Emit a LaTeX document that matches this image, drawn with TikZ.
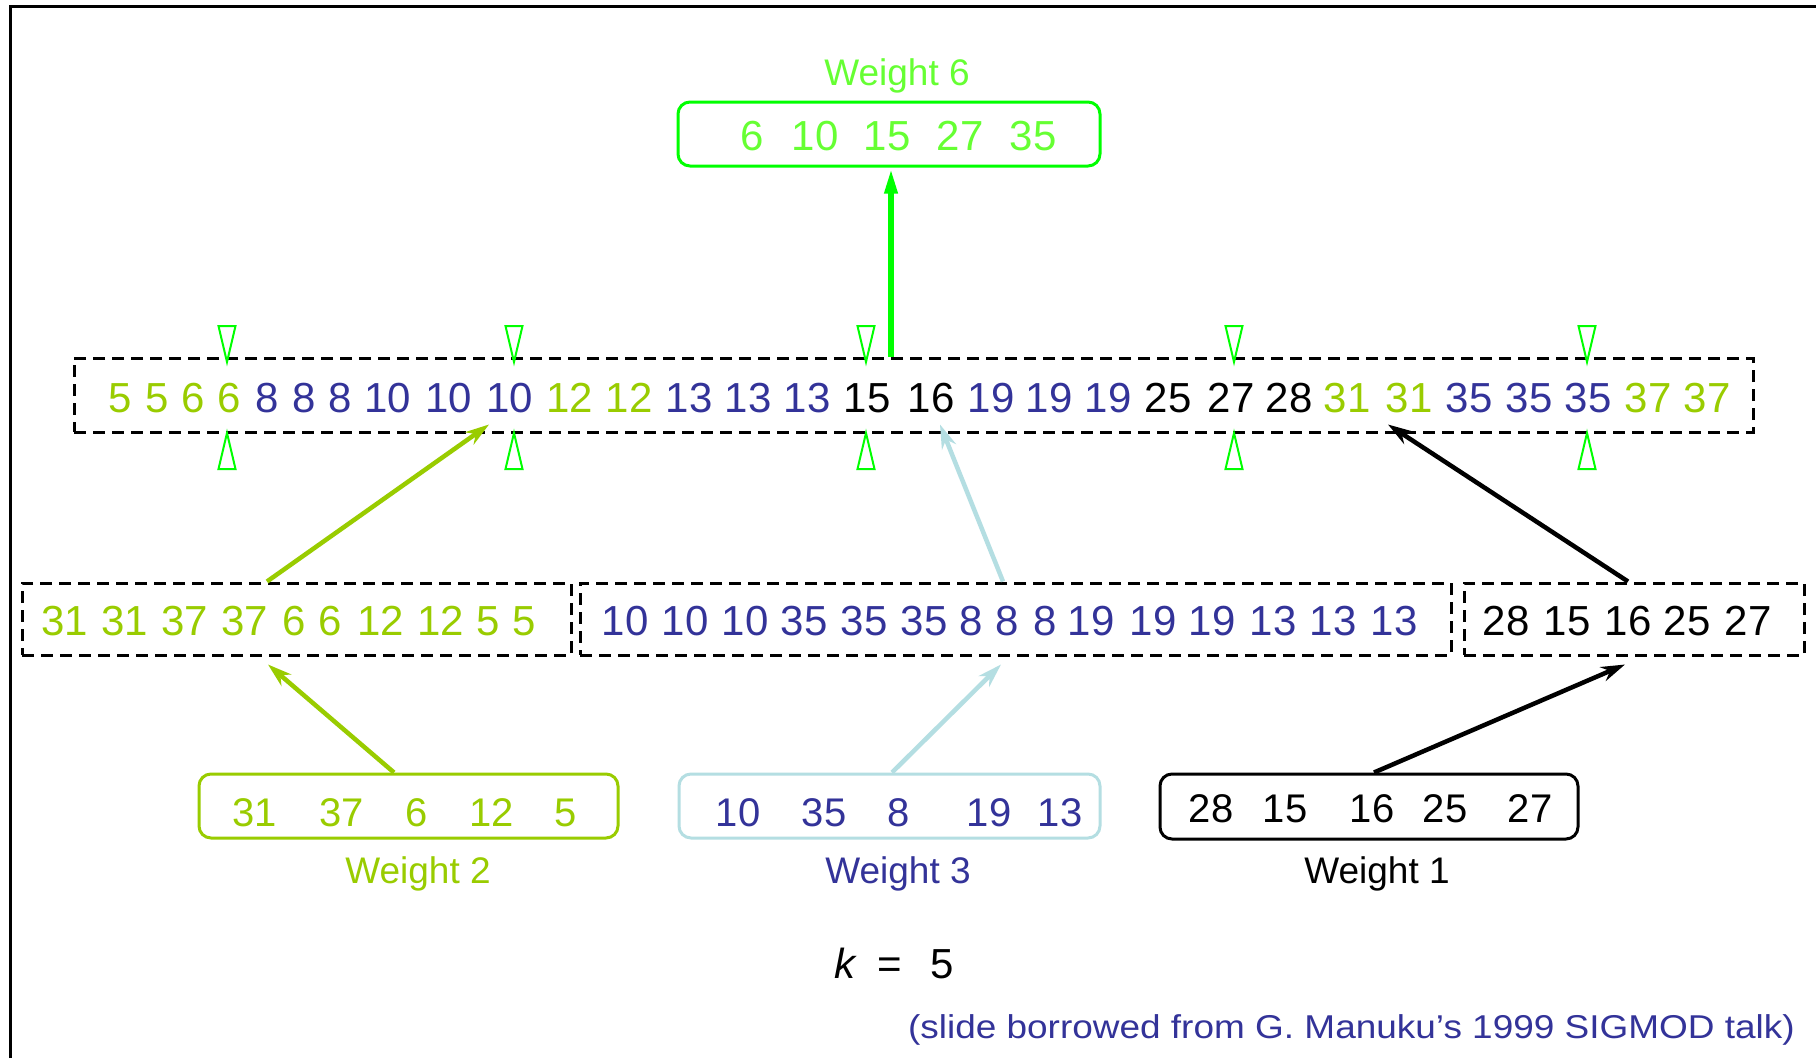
\documentclass[tikz,border=0pt]{standalone}
\usepackage{fontspec}
\setmainfont{Liberation Sans}
\usetikzlibrary{arrows.meta,calc}
\definecolor{ygreen}{HTML}{99CC00}
\definecolor{dblue}{HTML}{333399}
\definecolor{lblue}{HTML}{B4DEE2}
\definecolor{bgreen}{HTML}{00FF00}
\definecolor{tgreen}{HTML}{66FF33}
\begin{document}
\begin{tikzpicture}[x=1pt,y=-1pt,
  num/.style={anchor=base, inner sep=0pt, font=\fontsize{42}{50}\selectfont},
  snum/.style={anchor=base, inner sep=0pt, font=\fontsize{40}{48}\selectfont},
  lab/.style={anchor=base, inner sep=0pt, font=\fontsize{37}{44}\selectfont},
  dbox/.style={draw=black, line width=3pt, dash pattern=on 12pt off 7pt, inner sep=0pt},
  wbox/.style={line width=3pt, rounded corners=12pt, inner sep=0pt},
  tri/.style={draw=bgreen, line width=2pt, line join=miter},
  arr/.style={line width=4.5pt, -{Stealth[length=24pt,width=15pt]}}
]
\useasboundingbox (0,0) rectangle (1816,1058);
\fill[white] (0,0) rectangle (1816,1058);
% frame
\draw[line width=3pt] (10.5,1058) -- (10.5,6) -- (1816,6);

% boxes
\node[dbox, minimum width=1679pt, minimum height=74pt] (mid) at (913.5,395) {};
\node[dbox, minimum width=549pt, minimum height=72pt] (ba) at (296.5,619) {};
\node[dbox, minimum width=871pt, minimum height=72pt] (bb) at (1015.5,619) {};
\node[dbox, minimum width=340pt, minimum height=72pt] (bc) at (1634,619) {};
\node[wbox, draw=bgreen, minimum width=422pt, minimum height=64pt] (w6) at (889,134) {};
\node[wbox, draw=ygreen, minimum width=419pt, minimum height=64pt] (w2) at (408.5,806) {};
\node[wbox, draw=lblue, minimum width=421pt, minimum height=64pt] (w3) at (889.5,806) {};
\node[wbox, draw=black, minimum width=418pt, minimum height=65pt] (w1) at (1369,806.5) {};

% labels
\node[lab, text=tgreen] (l6) at (897,85) {Weight 6};
\node[lab, text=ygreen] (l2) at (418,883) {Weight 2};
\node[lab, text=dblue] (l3) at (898,883) {Weight 3};
\node[lab, text=black] (l1) at (1377,883) {Weight 1};

% weight 6 numbers
\foreach \x/\t [count=\i] in {752/6, 815/10, 887/15, 960/27, 1033/35}
  \node[num, text=tgreen] (s6n\i) at (\x,150) {\t};

% middle sorted row
\foreach \x/\t/\c [count=\i] in {120/5/ygreen, 157/5/ygreen, 193/6/ygreen, 229/6/ygreen,
  267/8/dblue, 304/8/dblue, 340/8/dblue, 388/10/dblue, 449/10/dblue, 510/10/dblue,
  570/12/ygreen, 629/12/ygreen, 689/13/dblue, 748/13/dblue, 807/13/dblue,
  867/15/black, 931/16/black, 991/19/dblue, 1049/19/dblue, 1108/19/dblue,
  1168/25/black, 1231/27/black, 1289/28/black, 1347/31/ygreen, 1409/31/ygreen,
  1469/35/dblue, 1529/35/dblue, 1588/35/dblue, 1648/37/ygreen, 1707/37/ygreen}
  \node[num, text=\c] (m\i) at (\x,412) {\t};

% box A
\foreach \x/\t [count=\i] in {65/31, 125/31, 185/37, 245/37, 294/6, 330/6, 381/12, 441/12, 488/5, 524/5}
  \node[num, text=ygreen] (a\i) at (\x,635) {\t};
% box B
\foreach \x/\t [count=\i] in {625/10, 685/10, 745/10, 804/35, 864/35, 924/35, 971/8, 1007/8, 1045/8,
  1091/19, 1153/19, 1212/19, 1273/13, 1333/13, 1394/13}
  \node[num, text=dblue] (b\i) at (\x,635) {\t};
% box C
\foreach \x/\t [count=\i] in {1506/28, 1567/15, 1628/16, 1687/25, 1748/27}
  \node[num, text=black] (c\i) at (\x,635) {\t};

% weight boxes numbers
\foreach \x/\t [count=\i] in {255/31, 342/37, 417/6, 492/12, 566/5}
  \node[snum, text=ygreen] (w2n\i) at (\x,826) {\t};
\foreach \x/\t [count=\i] in {738/10, 824/35, 899/8, 989/19, 1060/13}
  \node[snum, text=dblue] (w3n\i) at (\x,826) {\t};
\foreach \x/\t [count=\i] in {1211/28, 1285/15, 1372/16, 1445/25, 1530/27}
  \node[snum, text=black] (w1n\i) at (\x,822) {\t};

% triangles
\foreach \x in {227,514,866,1234,1587}{
  \draw[tri] (\x-8.5,326) -- (\x+8.5,326) -- (\x,362) -- cycle;
  \draw[tri] (\x,433) -- (\x+8.5,469) -- (\x-8.5,469) -- cycle;
}

% arrows
\draw[bgreen, line width=6pt, -{Triangle[length=26pt,width=12pt]}] (mid.north -| 891,0) -- (w6.south -| 891,0);
\draw[arr, ygreen] (w2.north -| 394,0) -- ($(ba.south -| 268,0)+(0,8)$);
\draw[arr, ygreen] (ba.north -| 267,0) -- ($(mid.south -| 489,0)+(0,-9)$);
\draw[arr, lblue] (w3.north -| 892,0) -- ($(bb.south -| 1001,0)+(0,8)$);
\draw[arr, lblue] (bb.north -| 1003,0) -- ($(mid.south -| 940,0)+(0,-9)$);
\draw[arr, black] (w1.north -| 1374,0) -- ($(bc.south -| 1625,0)+(0,8)$);
\draw[arr, black] (bc.north -| 1628,0) -- ($(mid.south -| 1388,0)+(0,-9)$);

% k = 5
\node[anchor=base west, inner sep=0pt, font=\fontsize{42}{50}\selectfont] (k) at (834,978) {\itshape k\upshape\hspace{22pt}=\hspace{29pt}5};

% credit
\node[anchor=base east, inner sep=0pt, font=\fontsize{33}{40}\selectfont, text=dblue, xscale=1.12] (cr) at (1795,1038) {(slide borrowed from G. Manuku’s 1999 SIGMOD talk)};
\end{tikzpicture}
\end{document}
